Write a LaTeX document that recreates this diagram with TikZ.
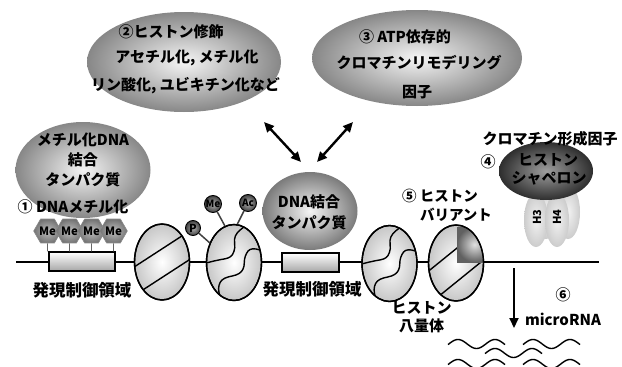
\documentclass[tikz,border=0pt]{standalone}
\usepackage{fontspec}
\setmainfont{Noto Sans CJK JP}
\usetikzlibrary{shapes.geometric,arrows.meta,calc}

\tikzset{
  txt/.style={font=\fontsize{15}{20}\selectfont\bfseries, inner sep=0pt, align=center},
  cloudshape/.style={ellipse, inner sep=0pt, inner color=black!4, outer color=black!47},
  nuc/.style={ellipse, draw=black, line width=1.4pt, inner color=white, outer color=black!22,
    minimum width=55pt, minimum height=76pt, inner sep=0pt},
  regbox/.style={rectangle, draw=black, line width=1.2pt, top color=white, bottom color=black!35,
    minimum width=66pt, minimum height=19pt, inner sep=0pt},
  mehex/.style={regular polygon, regular polygon sides=6, minimum size=24pt, inner sep=0pt,
    draw=black!45, line width=0.6pt, inner color=black!25, outer color=black!55,
    font=\fontsize{11.5}{11}\selectfont\bfseries},
  modball/.style={circle, draw=black, line width=0.9pt, inner color=black!30, outer color=black!75,
    inner sep=0pt, minimum size=16pt, font=\fontsize{10}{10}\selectfont\bfseries},
  lobe/.style={ellipse, inner sep=0pt, minimum width=24pt, minimum height=54pt,
    inner color=black!5, outer color=black!20},
  stem/.style={draw=black!75, line width=1.5pt},
  stripe/.style={line width=1.4pt},
  dbl/.style={{Triangle[length=10pt,width=9pt]}-{Triangle[length=10pt,width=9pt]}, line width=2.4pt},
  rnaline/.style={line width=1.4pt},
}

\begin{document}
\begin{tikzpicture}[x=1pt,y=-1pt]
\useasboundingbox (0,0) rectangle (622,367);

% chromatin fibre
\coordinate (dnaL) at (16,262);
\coordinate (dnaR) at (599,262);
\draw[line width=1.4pt] (dnaL) -- (dnaR);

% regulatory regions
\node[regbox] (b1) at (82,261.5) {};
\node[regbox, minimum width=57pt] (b2) at (310.5,262.5) {};
\node[txt, font=\fontsize{16.5}{20}\selectfont\bfseries] (b1lab) at (82,290) {発現制御領域};
\node[txt, font=\fontsize{16.5}{20}\selectfont\bfseries] (b2lab) at (312,289) {発現制御領域};

% nucleosomes
\node[nuc] (n1) at (162,262) {};
\node[nuc] (n2) at (234,262.5) {};
\node[nuc] (n3) at (389.5,263.5) {};
\node[nuc] (n4) at (456,263) {};

% plain nucleosome: two stripes
\begin{scope}
  \clip (n1.center) ellipse [x radius=27, y radius=37.5];
  \draw[stripe, shift={(n1.center)}, rotate=33] (-50,-11) -- (50,-11) (-50,13) -- (50,13);
\end{scope}

% histone variant nucleosome
\begin{scope}
  \clip (n4.center) ellipse [x radius=27, y radius=37.5];
  \draw[stripe, shift={(n4.center)}, rotate=39] (-50,-11) -- (50,-11) (-50,15) -- (50,15);
  \shade[inner color=black!12, outer color=black!62] (457,227) rectangle (492,262);
\end{scope}

% modified nucleosomes: wavy histone tails
\foreach \n in {n2,n3}{
  \begin{scope}
    \clip (\n.center) ellipse [x radius=27, y radius=37.5];
    \draw[stripe, shift={(\n.center)}] plot[smooth, tension=0.65] coordinates
      {(12,-37) (3.5,-30) (0.5,-23) (0.8,-15) (-1.5,-8) (-6,-4.5) (-13,-3) (-20,-1.5) (-30,1)};
    \draw[stripe, shift={(\n.center)}] plot[smooth, tension=0.65] coordinates
      {(30,-11) (22,-13.5) (16,-13) (12.5,-9) (10.5,-3) (10,3.5) (7.5,9) (2,12.5) (-6,14.5)
       (-12,17.5) (-15,23) (-15,30) (-12,40)};
  \end{scope}
}
\draw[line width=1.4pt] (n2.center) ellipse [x radius=27.5, y radius=38];
\draw[line width=1.4pt] (n3.center) ellipse [x radius=27.5, y radius=38];
\draw[line width=1.4pt] (n1.center) ellipse [x radius=27.5, y radius=38];
\draw[line width=1.4pt] (n4.center) ellipse [x radius=27.5, y radius=38];

% histone modifications
\node[modball, minimum size=15pt, font=\fontsize{11}{10}\selectfont\bfseries] (pb) at (193,228) {P};
\node[modball, minimum size=17pt] (meb) at (213,204) {Me};
\node[modball, minimum size=17pt] (acb) at (248,203) {Ac};
\draw[stem] (pb) -- (n2.141);
\draw[stem] (meb) -- (n2.104);
\draw[stem] (acb) -- (n2.85);

% DNA methylation
\node[cloudshape, minimum width=135pt, minimum height=96pt] (mbp) at (83,170) {};
\node[txt] (mbptxt) at (83,160) {メチル化DNA\\結合\\タンパク質};
\node[txt] (dnam) at (73,207) {① DNAメチル化};
\foreach \i/\x in {1/47.5,2/69.5,3/91.5,4/113.5}{
  \node[mehex] (h\i) at (\x,231) {Me};
  \draw[draw=black!60, line width=0.9pt] (h\i) -- (h\i |- b1.north);
}

% DNA-binding protein
\node[cloudshape, minimum width=95pt, minimum height=78pt, outer color=black!52] (dbp) at (310,211) {};
\node[txt] (dbptxt1) at (309,202) {DNA結合};
\node[txt] (dbptxt2) at (309,223) {タンパク質};

% histone modification factors
\node[cloudshape, minimum width=194pt, minimum height=100pt] (hm) at (184,62) {};
\node[txt] (hm1) at (171,32) {②ヒストン修飾};
\node[txt] (hm2) at (187,58) {アセチル化, メチル化};
\node[txt] (hm3) at (185.5,86) {リン酸化, ユビキチン化など};

% ATP-dependent remodelling factors
\node[cloudshape, minimum width=210pt, minimum height=96pt] (atp) at (417,58) {};
\node[txt] (atp1) at (405,37) {③ ATP依存的};
\node[txt] (atp2) at (419,63) {クロマチンリモデリング};
\node[txt] (atp3) at (417,92) {因子};

% interaction arrows
\coordinate (la) at (264,122);
\coordinate (lb) at (301,162);
\coordinate (ra) at (353,122);
\coordinate (rb) at (317,162);
\draw[dbl] (la) -- (lb);
\draw[dbl] (ra) -- (rb);

% histone chaperone with H3/H4
\node[lobe] (h3back) at (546,212) {};
\node[lobe] (h4back) at (568,212) {};
\node[lobe] (h3lobe) at (536,220) {};
\node[lobe] (h4lobe) at (557,220) {};
\node[txt, rotate=90, font=\fontsize{11}{10}\selectfont\bfseries] (h3t) at (537,217) {H3};
\node[txt, rotate=90, font=\fontsize{11}{10}\selectfont\bfseries] (h4t) at (557,217) {H4};
\node[ellipse, inner sep=0pt, minimum width=94pt, minimum height=58pt,
      inner color=black!38, outer color=black!82] (chap) at (546,171) {};
\node[txt] (chap0) at (550,139) {クロマチン形成因子};
\node[txt] (chap1) at (548,160) {ヒストン};
\node[txt] (chap2) at (549,178) {シャペロン};
\node[txt] (num4) at (488,162) {④};

% histone variant label
\node[txt, font=\fontsize{14.5}{20}\selectfont\bfseries] (var1) at (440,196) {⑤ ヒストン};
\node[txt, font=\fontsize{14.5}{20}\selectfont\bfseries] (var2) at (456,215) {バリアント};

% octamer label
\node[txt, font=\fontsize{15}{18}\selectfont\bfseries] (oct) at (421.5,317) {ヒストン\\八量体};

% microRNA
\coordinate (ma) at (514,268);
\coordinate (mb) at (514,328);
\draw[line width=2pt, -{Triangle[length=10pt,width=9pt]}] (ma) -- (mb);
\node[txt] (num6) at (563,295) {⑥};
\node[txt] (mirna) at (563,319) {microRNA};
\foreach \sx/\sy in {448/346.4, 523/346.4, 485/355.4, 448/366.4, 523/366.4}{
  \draw[rnaline] plot[domain=0:57, samples=50, smooth] ({\sx+\x}, {\sy-2.4-4.5*cos(9.73*(\x-10))});
}
\end{tikzpicture}
\end{document}
